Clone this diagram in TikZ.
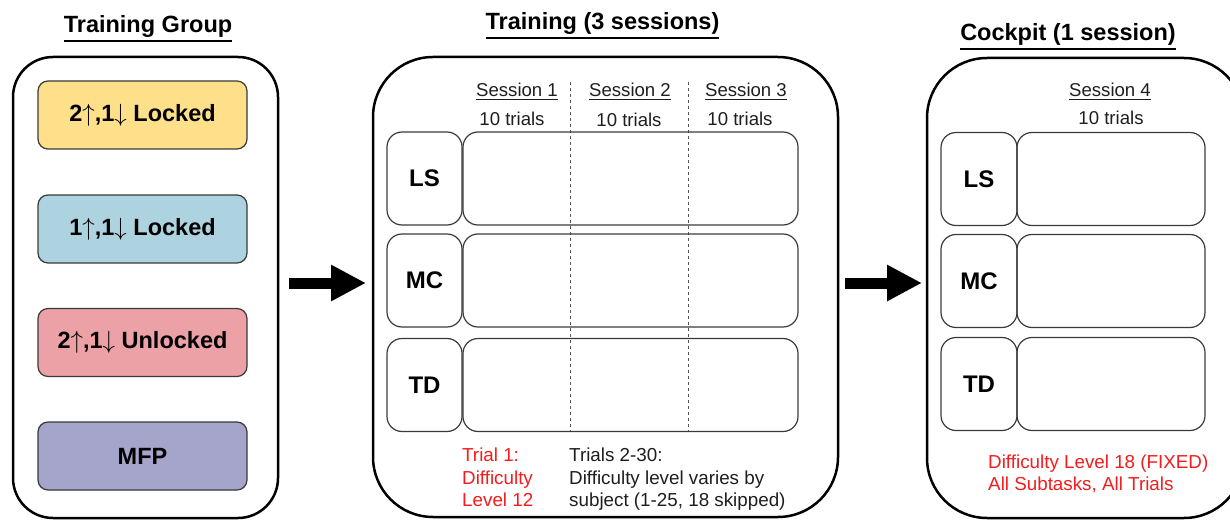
\documentclass[tikz,border=0pt]{standalone}
\usepackage{fontspec}
\setmainfont{Liberation Sans}
\usetikzlibrary{arrows.meta}
\definecolor{cyel}{HTML}{FFE08A}
\definecolor{cblu}{HTML}{AED3E0}
\definecolor{cred}{HTML}{EBA1A6}
\definecolor{cpur}{HTML}{A5A4CB}
\definecolor{cedge}{HTML}{3A3A3A}
\definecolor{cdash}{HTML}{555555}
\definecolor{cwarn}{HTML}{F41C1C}
\definecolor{ctext}{HTML}{1E1E1E}
\newcommand{\bigul}[1]{\leavevmode\vtop{\hbox{#1}\kern 2.2pt\hrule height 2pt}}
\newcommand{\smallul}[1]{\leavevmode\vtop{\hbox{#1}\kern 2pt\hrule height 1pt}}
\begin{document}
\begin{tikzpicture}[x=1pt,y=-1pt,
  outerbox/.style={draw=black, line width=2.5pt, rounded corners=#1, inner sep=0pt, outer sep=0pt},
  groupbox/.style={draw=cedge, line width=1.2pt, rounded corners=10pt, fill=#1,
     minimum width=209pt, minimum height=68pt, inner sep=0pt,
     font=\fontsize{23.5}{27}\selectfont\bfseries},
  labbox/.style={draw=cedge, line width=1.2pt, rounded corners=15pt, inner sep=0pt,
     minimum height=93pt, font=\fontsize{24}{27}\selectfont\bfseries},
  cellbox/.style={draw=cedge, line width=1.2pt, rounded corners=15pt, inner sep=0pt,
     minimum height=93pt},
  titletext/.style={font=\fontsize{23.5}{27}\selectfont\bfseries, text=black, inner sep=0pt, anchor=base},
  sesstext/.style={font=\fontsize{18.6}{22}\selectfont, text=ctext, inner sep=0pt, anchor=base},
  notetext/.style={font=\fontsize{18.8}{22.5}\selectfont, align=left, inner sep=0pt, anchor=north west},
  divider/.style={draw=cdash, line width=0.8pt, dash pattern=on 3pt off 3pt},
  bigarrow/.style={line width=11pt, -{Triangle[length=35pt,width=34pt]}}
]
\useasboundingbox (0,0) rectangle (1230,521);
\clip (0,0) rectangle (1230,521);

% titles
\node[titletext] (t1) at (148,33) {\bigul{Training Group}};
\node[titletext] (t2) at (602.5,30) {\bigul{Training (3 sessions)}};
\node[titletext] (t3) at (1068,41) {\bigul{Cockpit (1 session)}};

% outer boxes
\node[outerbox=40pt, minimum width=265pt, minimum height=461pt] (grp) at (145.5,287.5) {};
\node[outerbox=60pt, minimum width=465pt, minimum height=460pt] (trn) at (605.5,287) {};
\node[outerbox=60pt, minimum width=317pt, minimum height=460pt] (ckp) at (1085.5,288) {};

% training group boxes
\node[groupbox=cyel] (g1) at (142.5,115) {2$\uparrow$,1$\downarrow$ Locked};
\node[groupbox=cblu] (g2) at (142.5,229) {1$\uparrow$,1$\downarrow$ Locked};
\node[groupbox=cred] (g3) at (142.5,342.5) {2$\uparrow$,1$\downarrow$ Unlocked};
\node[groupbox=cpur] (g4) at (142.5,456) {MFP};

% training sessions
\draw[divider] (570,82) -- (570,432);
\draw[divider] (688,82) -- (688,432);
\node[sesstext] (s1) at (517,97) {\smallul{Session 1}};
\node[sesstext] (s2) at (630,97) {\smallul{Session 2}};
\node[sesstext] (s3) at (746,97) {\smallul{Session 3}};
\node[sesstext] (n1) at (512,126) {10 trials};
\node[sesstext] (n2) at (629,127) {10 trials};
\node[sesstext] (n3) at (740,126) {10 trials};

\node[labbox, minimum width=75pt] (tls) at (424.5,178.5) {LS};
\node[labbox, minimum width=75pt] (tmc) at (424.5,280.5) {MC};
\node[labbox, minimum width=75pt] (ttd) at (424.5,385) {TD};
\node[cellbox, minimum width=335pt] (cls) at (630.5,178.5) {};
\node[cellbox, minimum width=335pt] (cmc) at (630.5,280.5) {};
\node[cellbox, minimum width=335pt] (ctd) at (630.5,385) {};

\node[notetext, text=cwarn] (r1) at (462,448) {Trial 1:\\Difficulty\\Level 12};
\node[notetext, text=ctext] (b1) at (569,448) {Trials 2-30:\\Difficulty level varies by\\subject (1-25, 18 skipped)};

% cockpit
\node[sesstext] (s4) at (1110,97) {\smallul{Session 4}};
\node[sesstext] (n4) at (1111,125) {10 trials};
\node[labbox, minimum width=76pt] (kls) at (979,179) {LS};
\node[labbox, minimum width=76pt] (kmc) at (979,281) {MC};
\node[labbox, minimum width=76pt] (ktd) at (979,384) {TD};
\node[cellbox, minimum width=188pt] (dls) at (1111,179) {};
\node[cellbox, minimum width=188pt] (dmc) at (1111,281) {};
\node[cellbox, minimum width=188pt] (dtd) at (1111,384) {};
\node[notetext, text=cwarn, font=\fontsize{18.8}{22}\selectfont] (r2) at (988,455) {Difficulty Level 18 (FIXED)\\All Subtasks, All Trials};

% arrows
\coordinate (a1s) at (289,283);
\coordinate (a1e) at (366,283);
\coordinate (a2s) at (845,283);
\coordinate (a2e) at (922,283);
\draw[bigarrow] (a1s) -- (a1e);
\draw[bigarrow] (a2s) -- (a2e);
\end{tikzpicture}
\end{document}
